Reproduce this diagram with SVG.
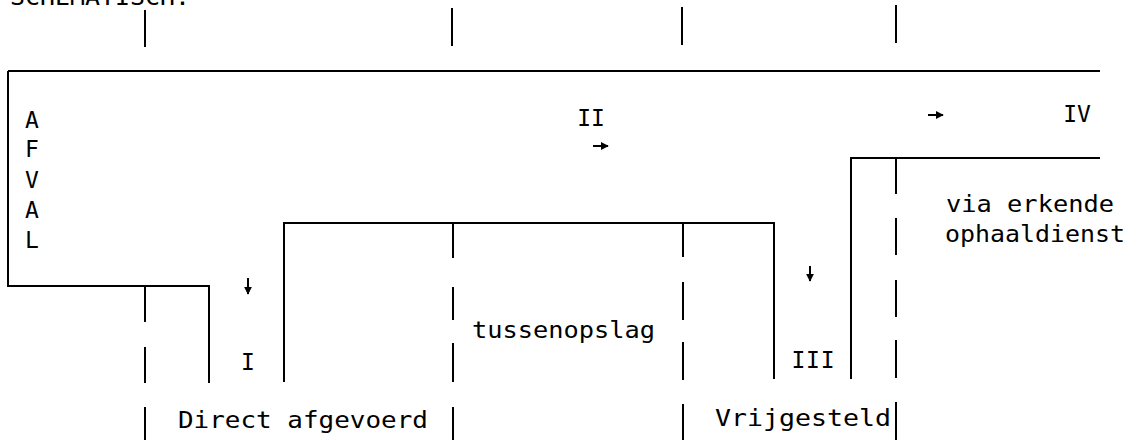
<svg xmlns="http://www.w3.org/2000/svg" width="1138" height="440" viewBox="0 0 1138 440">
  <style>
    .ln { fill: none; stroke: #000; stroke-width: 2; stroke-linecap: butt; }
    .tx { font-family: "DejaVu Sans Mono", "Liberation Mono", monospace; font-size: 23px; fill: #000; }
    .mid { text-anchor: middle; }
    .ar { fill: none; stroke: #000; stroke-width: 2; }
  </style>
  <defs>
    <marker id="ah" viewBox="0 0 10 10" refX="9" refY="5" markerWidth="4" markerHeight="4" orient="auto" markerUnits="strokeWidth">
      <path d="M0,0 L10,5 L0,10 Z" fill="#000"/>
    </marker>
  </defs>
  <rect width="1138" height="440" fill="#fff"/>

  <text class="tx" x="10" y="5" textLength="180" lengthAdjust="spacingAndGlyphs">SCHEMATISCH.</text>

  <g id="frame">
    <path class="ln" d="M8,71 H1100"/>
    <path class="ln" d="M8,71 V286 H209 V383"/>
    <path class="ln" d="M284,382 V223 H774 V379"/>
    <path class="ln" d="M851,379 V158 H1100"/>
  </g>

  <g id="ticks">
    <path class="ln" d="M145,10 V47 M452,8 V46 M682,7 V45 M896,5 V43"/>
  </g>

  <g id="dividers">
    <path class="ln" d="M145,286 V322 M145,347 V383 M145,407 V440"/>
    <path class="ln" d="M453,223 V258 M453,287 V320 M453,343 V382 M453,407 V440"/>
    <path class="ln" d="M683,223 V257 M683,282 V320 M683,342 V380 M683,404 V440"/>
    <path class="ln" d="M896,159 V194 M896,218 V255 M896,280 V317 M896,340 V378 M896,402 V440"/>
  </g>

  <g id="connectors">
    <line class="ar" x1="248" y1="278" x2="248" y2="294" marker-end="url(#ah)"/>
    <line class="ar" x1="593" y1="146" x2="608" y2="146" marker-end="url(#ah)"/>
    <line class="ar" x1="928" y1="115" x2="943" y2="115" marker-end="url(#ah)"/>
    <line class="ar" x1="810" y1="266" x2="810" y2="281" marker-end="url(#ah)"/>
  </g>

  <g id="node-afval">
    <text class="tx" x="25" y="128">A</text>
    <text class="tx" x="25" y="157">F</text>
    <text class="tx" x="25" y="188">V</text>
    <text class="tx" x="25" y="218">A</text>
    <text class="tx" x="25" y="248">L</text>
  </g>

  <g id="node-I">
    <text class="tx mid" x="248" y="370">I</text>
  </g>
  <g id="node-II">
    <text class="tx mid" x="591" y="126">II</text>
  </g>
  <g id="node-III">
    <text class="tx mid" x="813" y="368" textLength="43" lengthAdjust="spacing">III</text>
  </g>
  <g id="node-IV">
    <text class="tx mid" x="1077" y="122">IV</text>
  </g>

  <g id="node-tussenopslag">
    <text class="tx" x="472" y="338" textLength="183" lengthAdjust="spacingAndGlyphs">tussenopslag</text>
  </g>
  <g id="node-direct">
    <text class="tx" x="178" y="428" textLength="250" lengthAdjust="spacingAndGlyphs">Direct afgevoerd</text>
  </g>
  <g id="node-vrijgesteld">
    <text class="tx" x="715" y="426" textLength="176" lengthAdjust="spacingAndGlyphs">Vrijgesteld</text>
  </g>
  <g id="node-ophaaldienst">
    <text class="tx" x="946" y="212" textLength="168" lengthAdjust="spacingAndGlyphs">via erkende</text>
    <text class="tx" x="945" y="242" textLength="180" lengthAdjust="spacingAndGlyphs">ophaaldienst</text>
  </g>
</svg>
